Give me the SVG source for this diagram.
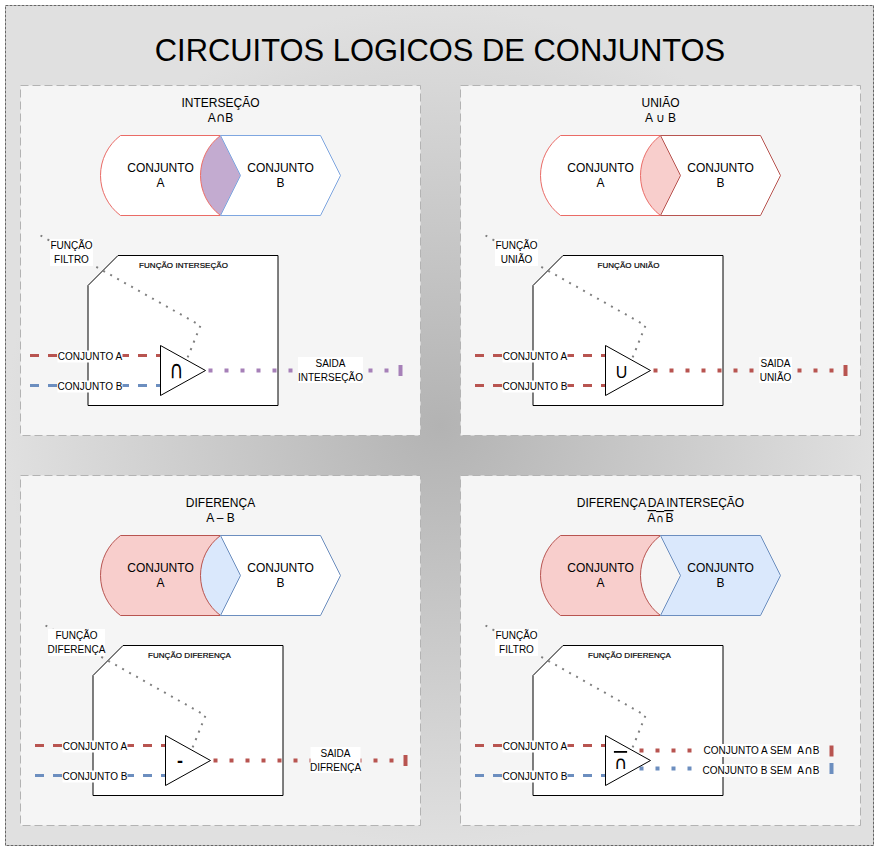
<svg xmlns="http://www.w3.org/2000/svg" width="879" height="852" viewBox="0 0 879 852">
<style>
text{font-family:"Liberation Sans",Arial,sans-serif;fill:#000;text-anchor:middle;font-size:12px;text-decoration-skip-ink:none}
.s10{font-size:10px}
.s8{font-size:8px;letter-spacing:.05px;stroke:#000;stroke-width:.2px}
.start{text-anchor:start}
.sym{font-family:"DejaVu Sans",sans-serif}
.panel{fill:#f5f5f5;stroke:#b3b3b3;stroke-dasharray:8 4}
.box{fill:#fff;stroke:#000}
.tri{fill:#fff;stroke:#000}
.lab{fill:#fff}
.ln{fill:none;stroke-width:3;stroke-dasharray:9 9}
.dot{fill:none;stroke-width:4;stroke-dasharray:4 12}
.bar{fill:none;stroke-width:4}
.filt{fill:none;stroke:#808080;stroke-width:2;stroke-dasharray:2 6}
.red{stroke:#b85450}
.blue{stroke:#6c8ebf}
.pur{stroke:#a680b8}
</style>
<defs>
<radialGradient id="bg" cx="50%" cy="50%" r="50%">
<stop offset="0" stop-color="#b3b3b3"/>
<stop offset="1" stop-color="#e0e0e0"/>
</radialGradient>
<path id="sa" d="M120.5 135.5H220.5A50 50 0 0 0 220.5 215.5H120.5A50 50 0 0 1 120.5 135.5Z"/>
<path id="sb" d="M220.5 135.5H320.5L340.5 175.5L320.5 215.5H220.5L240.5 175.5Z"/>
<path id="sl" d="M220.5 135.5A50 50 0 0 0 220.5 215.5L240.5 175.5Z"/>
<path id="sbox" d="M88 285.5L118 255.5H278V405.5H88Z"/>
<path id="stri" d="M160.5 345.5L205.5 370.5L160.5 395.5Z"/>
</defs>

<rect id="background" x="5.5" y="5.5" width="868" height="840" fill="url(#bg)" stroke="#666" stroke-dasharray="3 1"/>
<text id="title" x="440" y="61" style="font-size:30.9px">CIRCUITOS LOGICOS DE CONJUNTOS</text>

<g id="panels">
<rect class="panel" x="20.5" y="85.5" width="400" height="350"/>
<rect class="panel" x="460.5" y="85.5" width="400" height="350"/>
<rect class="panel" x="20.5" y="475.5" width="400" height="350"/>
<rect class="panel" x="460.5" y="475.5" width="400" height="350"/>
</g>

<g id="heading-intersecao"><text x="220.5" y="107">INTERSEÇÃO</text><text x="220.5" y="122">A<tspan class="sym" font-size="13">∩</tspan>B</text></g>
<g id="heading-uniao"><text x="660.5" y="107">UNIÃO</text><text x="660.5" y="122">A ∪ B</text></g>
<g id="heading-diferenca"><text x="220.5" y="507">DIFERENÇA</text><text x="220.5" y="522">A – B</text></g>
<g id="heading-diferenca-intersecao"><text x="660.5" y="507" word-spacing="-1">DIFERENÇA DA INTERSEÇÃO</text><text x="660.5" y="522" text-decoration="overline" word-spacing="-2">A <tspan class="sym" font-size="11">∩</tspan> B</text></g>

<g id="sets-intersecao">
<use href="#sl" fill="#c3abd0"/>
<use href="#sa" fill="#fff" stroke="#ea6b66"/>
<use href="#sb" fill="#fff" stroke="#7ea6e0"/>
<text x="160.5" y="172">CONJUNTO</text><text x="160.5" y="187">A</text>
<text x="280.5" y="172">CONJUNTO</text><text x="280.5" y="187">B</text>
</g>
<g id="sets-uniao" transform="translate(440 0)">
<use href="#sl" fill="#f8cecc"/>
<use href="#sa" fill="#fff" stroke="#ea6b66"/>
<use href="#sb" fill="#fff" stroke="#b85450"/>
<text x="160.5" y="172">CONJUNTO</text><text x="160.5" y="187">A</text>
<text x="280.5" y="172">CONJUNTO</text><text x="280.5" y="187">B</text>
</g>
<g id="sets-diferenca" transform="translate(0 400)">
<use href="#sl" fill="#dae8fc"/>
<use href="#sa" fill="#f8cecc" stroke="#b85450"/>
<use href="#sb" fill="#fff" stroke="#6c8ebf"/>
<text x="160.5" y="172">CONJUNTO</text><text x="160.5" y="187">A</text>
<text x="280.5" y="172">CONJUNTO</text><text x="280.5" y="187">B</text>
</g>
<g id="sets-diferenca-intersecao" transform="translate(440 400)">
<use href="#sa" fill="#f8cecc" stroke="#b85450"/>
<use href="#sb" fill="#dae8fc" stroke="#6c8ebf"/>
<text x="160.5" y="172">CONJUNTO</text><text x="160.5" y="187">A</text>
<text x="280.5" y="172">CONJUNTO</text><text x="280.5" y="187">B</text>
</g>

<g id="box-intersecao"><use href="#sbox" class="box"/><text class="s8" x="183.5" y="268">FUNÇÃO INTERSEÇÃO</text></g>
<g id="box-uniao"><use href="#sbox" class="box" transform="translate(445 0)"/><text class="s8" x="628.5" y="268">FUNÇÃO UNIÃO</text></g>
<g id="box-diferenca"><use href="#sbox" class="box" transform="translate(5 390)"/><text class="s8" x="189.5" y="658">FUNÇÃO DIFERENÇA</text></g>
<g id="box-diferenca-intersecao"><use href="#sbox" class="box" transform="translate(445 390)"/><text class="s8" x="629.5" y="658">FUNÇÃO DIFERENÇA</text></g>

<g id="connectors">
<path class="filt" d="M40.5 235.5L200.5 325.5L187 359"/>
<path class="ln red" d="M30 355.5H160"/>
<path class="ln blue" d="M30 385.5H160"/>
<path class="dot pur" d="M208.5 370.5H400"/>
<path class="bar pur" d="M400.5 365V376"/>

<path class="filt" d="M485.5 235.5L645.5 325.5L632 359"/>
<path class="ln red" d="M475 355.5H605"/>
<path class="ln red" d="M475 385.5H605"/>
<path class="dot red" d="M653.5 370.5H845"/>
<path class="bar red" d="M845.5 365V376"/>

<path class="filt" d="M45.5 625.5L205.5 715.5L192 749"/>
<path class="ln red" d="M35 745.5H165"/>
<path class="ln blue" d="M35 775.5H165"/>
<path class="dot red" d="M213.5 760.5H405"/>
<path class="bar red" d="M405.5 755V766"/>

<path class="filt" d="M485.5 625.5L645.5 715.5L632 749"/>
<path class="ln red" d="M475 745.5H605"/>
<path class="ln blue" d="M475 775.5H605"/>
<path class="dot red" d="M639.5 750.5H831"/>
<path class="bar red" d="M831.5 745.5V756.5"/>
<path class="dot blue" d="M639.5 768.5H831"/>
<path class="bar blue" d="M831.5 763V774"/>

<g id="labels">
<rect class="lab" x="50" y="239" width="43" height="27"/><text class="s10" x="71.5" y="249">FUNÇÃO</text><text class="s10" x="71.5" y="263">FILTRO</text>
<rect class="lab" x="57.5" y="350.5" width="65" height="12"/><text class="s10" x="90" y="360">CONJUNTO A</text>
<rect class="lab" x="57.5" y="380.5" width="65" height="12"/><text class="s10" x="90" y="390">CONJUNTO B</text>
<rect class="lab" x="298" y="357" width="65" height="26"/><text class="s10" x="330.5" y="367">SAIDA</text><text class="s10" x="330.5" y="381">INTERSEÇÃO</text>

<rect class="lab" x="495" y="239" width="43" height="27"/><text class="s10" x="516.5" y="249">FUNÇÃO</text><text class="s10" x="516.5" y="263">UNIÃO</text>
<rect class="lab" x="502.5" y="350.5" width="65" height="12"/><text class="s10" x="535" y="360">CONJUNTO A</text>
<rect class="lab" x="502.5" y="380.5" width="65" height="12"/><text class="s10" x="535" y="390">CONJUNTO B</text>
<rect class="lab" x="759" y="357" width="33" height="26"/><text class="s10" x="775.5" y="367">SAIDA</text><text class="s10" x="775.5" y="381">UNIÃO</text>

<rect class="lab" x="48" y="629" width="57" height="27"/><text class="s10" x="76.5" y="639">FUNÇÃO</text><text class="s10" x="76.5" y="653">DIFERENÇA</text>
<rect class="lab" x="62.5" y="740.5" width="65" height="12"/><text class="s10" x="95" y="750">CONJUNTO A</text>
<rect class="lab" x="62.5" y="770.5" width="65" height="12"/><text class="s10" x="95" y="780">CONJUNTO B</text>
<rect class="lab" x="310.5" y="747" width="50" height="26"/><text class="s10" x="335.5" y="757">SAIDA</text><text class="s10" x="335.5" y="771">DIFRENÇA</text>

<rect class="lab" x="495" y="629" width="43" height="27"/><text class="s10" x="516.5" y="639">FUNÇÃO</text><text class="s10" x="516.5" y="653">FILTRO</text>
<rect class="lab" x="502.5" y="740.5" width="65" height="12"/><text class="s10" x="535" y="750">CONJUNTO A</text>
<rect class="lab" x="502.5" y="770.5" width="65" height="12"/><text class="s10" x="535" y="780">CONJUNTO B</text>
<rect class="lab" x="703" y="744" width="117" height="13"/><text class="s10 start" x="703.5" y="754">CONJUNTO A SEM &#160;A<tspan class="sym" font-size="12">∩</tspan>B</text>
<rect class="lab" x="702" y="764" width="118" height="13"/><text class="s10 start" x="702.5" y="774">CONJUNTO B SEM &#160;A<tspan class="sym" font-size="12">∩</tspan>B</text>
</g>
</g>

<g id="gate-intersecao"><use href="#stri" class="tri"/><text transform="translate(176.5 378) scale(1 1.3)" style="font-size:19px;font-family:'DejaVu Sans',sans-serif">∩</text></g>
<g id="gate-uniao"><use href="#stri" class="tri" transform="translate(445 0)"/><text x="621.5" y="378" style="font-size:16px">U</text></g>
<g id="gate-diferenca"><use href="#stri" class="tri" transform="translate(5 390)"/><text x="180" y="767" style="font-size:18px;font-weight:bold">-</text></g>
<g id="gate-diferenca-intersecao"><use href="#stri" class="tri" transform="translate(445 390)"/><text x="620.5" y="769" style="font-size:18px;font-family:'DejaVu Sans',sans-serif" text-decoration="overline">∩</text></g>
</svg>
